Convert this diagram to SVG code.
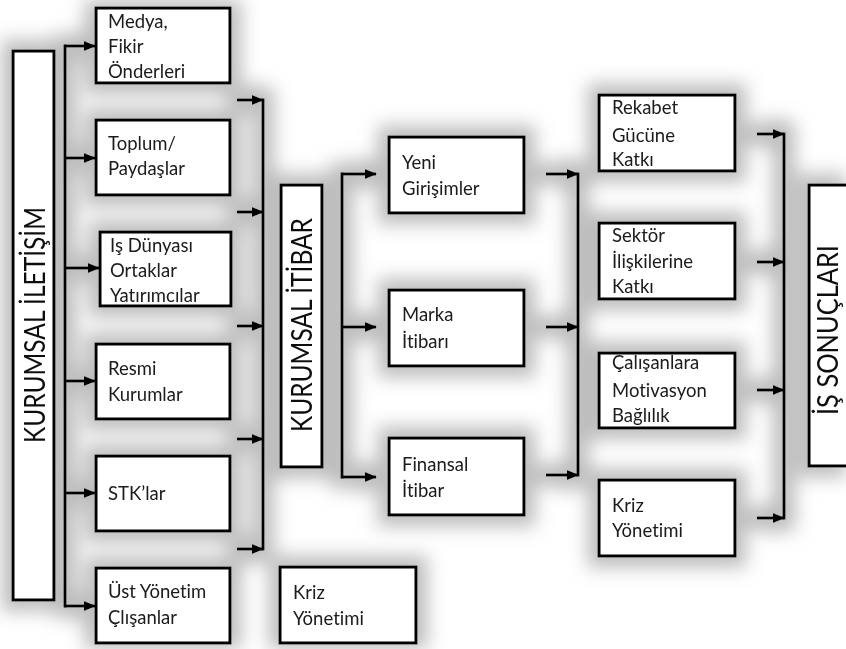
<svg xmlns="http://www.w3.org/2000/svg" width="846" height="649" viewBox="0 0 846 649">
  <defs>
    <style>
      .box { fill: #ffffff; stroke: #000000; stroke-width: 3; }
      .lbl { font-family: Lato, "Open Sans", sans-serif; font-size: 18.5px; fill: #1a1a1a; font-variant-ligatures: none; }
      .vlbl { font-family: Lato, "Open Sans", sans-serif; font-size: 29px; fill: #111111; font-variant-ligatures: none; }
      .bus { fill: none; stroke: #000000; stroke-width: 3; stroke-linecap: square; }
      .arr { fill: none; stroke: #000000; stroke-width: 3; marker-end: url(#head); }
    </style>
    <marker id="head" markerUnits="userSpaceOnUse" markerWidth="12" markerHeight="10" refX="11" refY="5" orient="auto">
      <path d="M0,0 L12,5 L0,10 Z" fill="#000000"/>
    </marker>
    <!-- soft grey glow drawn behind everything -->
    <filter id="halo" filterUnits="userSpaceOnUse" x="0" y="0" width="846" height="649">
      <feMorphology in="SourceAlpha" operator="dilate" radius="10" result="d"/>
      <feGaussianBlur in="d" stdDeviation="9" result="b"/>
      <feFlood flood-color="#a8a8a8" flood-opacity="0.75"/>
      <feComposite in2="b" operator="in" result="s"/>
      <feMerge><feMergeNode in="s"/><feMergeNode in="SourceGraphic"/></feMerge>
    </filter>
  </defs>

  <rect x="0" y="0" width="846" height="649" fill="#ffffff"/>

  <g filter="url(#halo)">
    <!-- connectors -->
    <g id="connectors">
      <!-- left bus -->
      <path class="bus" d="M65,46 V606"/>
      <path class="arr" d="M64,46 H95"/>
      <path class="arr" d="M64,158 H95"/>
      <path class="arr" d="M64,268 H99"/>
      <path class="arr" d="M64,381 H95"/>
      <path class="arr" d="M64,493 H95"/>
      <path class="arr" d="M64,606 H95"/>
      <!-- collector into KURUMSAL İTİBAR -->
      <path class="bus" d="M263,100 V549"/>
      <path class="arr" d="M237,100 H263"/>
      <path class="arr" d="M237,212 H263"/>
      <path class="arr" d="M237,326 H263"/>
      <path class="arr" d="M237,439 H263"/>
      <path class="arr" d="M237,549 H263"/>
      <!-- middle bus -->
      <path class="bus" d="M342,174 V477"/>
      <path class="arr" d="M341,174 H376"/>
      <path class="arr" d="M341,327 H376"/>
      <path class="arr" d="M341,477 H376"/>
      <!-- collector after middle column -->
      <path class="bus" d="M578,174 V475"/>
      <path class="arr" d="M546,174 H578"/>
      <path class="arr" d="M546,327 H578"/>
      <path class="arr" d="M546,475 H578"/>
      <!-- collector into İŞ SONUÇLARI -->
      <path class="bus" d="M784,134 V518"/>
      <path class="arr" d="M757,134 H784"/>
      <path class="arr" d="M757,262 H784"/>
      <path class="arr" d="M757,390 H784"/>
      <path class="arr" d="M757,518 H784"/>
    </g>

    <!-- vertical headers -->
    <g id="kurumsal-iletisim">
      <rect class="box" x="13" y="51" width="41" height="549"/>
      <text class="vlbl" transform="translate(34,325) rotate(-90)" x="0" y="10.5" text-anchor="middle" textLength="236" lengthAdjust="spacingAndGlyphs">KURUMSAL İLETİŞİM</text>
    </g>
    <g id="kurumsal-itibar">
      <rect class="box" x="281" y="185" width="41" height="282"/>
      <text class="vlbl" transform="translate(301,325) rotate(-90)" x="0" y="10.5" text-anchor="middle" textLength="214" lengthAdjust="spacingAndGlyphs">KURUMSAL İTİBAR</text>
    </g>
    <g id="is-sonuclari">
      <rect class="box" x="809" y="185" width="42" height="281"/>
      <text class="vlbl" transform="translate(827,330) rotate(-90)" x="0" y="10.5" text-anchor="middle" textLength="170" lengthAdjust="spacingAndGlyphs">İŞ SONUÇLARI</text>
    </g>

    <!-- stakeholder column -->
    <g id="medya">
      <rect class="box" x="96" y="8" width="134" height="75"/>
      <text class="lbl" x="108" y="28">Medya,</text>
      <text class="lbl" x="108" y="53">Fikir</text>
      <text class="lbl" x="108" y="78">Önderleri</text>
    </g>
    <g id="toplum">
      <rect class="box" x="96" y="120" width="134" height="75"/>
      <text class="lbl" x="108" y="150">Toplum/</text>
      <text class="lbl" x="108" y="175">Paydaşlar</text>
    </g>
    <g id="is-dunyasi">
      <rect class="box" x="100" y="232" width="131" height="74"/>
      <text class="lbl" x="110" y="252">Iş Dünyası</text>
      <text class="lbl" x="110" y="277">Ortaklar</text>
      <text class="lbl" x="110" y="302">Yatırımcılar</text>
    </g>
    <g id="resmi">
      <rect class="box" x="96" y="344" width="134" height="75"/>
      <text class="lbl" x="108" y="375">Resmi</text>
      <text class="lbl" x="108" y="401">Kurumlar</text>
    </g>
    <g id="stk">
      <rect class="box" x="96" y="456" width="134" height="75"/>
      <text class="lbl" x="108" y="500">STK’lar</text>
    </g>
    <g id="ust-yonetim">
      <rect class="box" x="96" y="568" width="134" height="75"/>
      <text class="lbl" x="108" y="598">Üst Yönetim</text>
      <text class="lbl" x="108" y="624">Çlışanlar</text>
    </g>

    <!-- reputation column -->
    <g id="yeni">
      <rect class="box" x="389" y="137" width="135" height="76"/>
      <text class="lbl" x="402" y="169">Yeni</text>
      <text class="lbl" x="402" y="195">Girişimler</text>
    </g>
    <g id="marka">
      <rect class="box" x="389" y="290" width="135" height="76"/>
      <text class="lbl" x="402" y="321">Marka</text>
      <text class="lbl" x="402" y="348">İtibarı</text>
    </g>
    <g id="finansal">
      <rect class="box" x="389" y="438" width="135" height="77"/>
      <text class="lbl" x="402" y="471">Finansal</text>
      <text class="lbl" x="402" y="497">İtibar</text>
    </g>
    <g id="kriz-orta">
      <rect class="box" x="280" y="567" width="136" height="76"/>
      <text class="lbl" x="293" y="599">Kriz</text>
      <text class="lbl" x="293" y="625">Yönetimi</text>
    </g>

    <!-- outcome column -->
    <g id="rekabet">
      <rect class="box" x="599" y="95" width="136" height="76"/>
      <text class="lbl" x="612" y="114">Rekabet</text>
      <text class="lbl" x="612" y="142">Gücüne</text>
      <text class="lbl" x="612" y="166">Katkı</text>
    </g>
    <g id="sektor">
      <rect class="box" x="599" y="223" width="136" height="76"/>
      <text class="lbl" x="612" y="242">Sektör</text>
      <text class="lbl" x="612" y="268">İlişkilerine</text>
      <text class="lbl" x="612" y="293">Katkı</text>
    </g>
    <g id="calisanlara">
      <rect class="box" x="599" y="353" width="136" height="75"/>
      <text class="lbl" x="612" y="369">Çalışanlara</text>
      <text class="lbl" x="612" y="397">Motivasyon</text>
      <text class="lbl" x="612" y="422">Bağlılık</text>
    </g>
    <g id="kriz-sag">
      <rect class="box" x="599" y="480" width="136" height="76"/>
      <text class="lbl" x="612" y="512">Kriz</text>
      <text class="lbl" x="612" y="537">Yönetimi</text>
    </g>
  </g>
</svg>
